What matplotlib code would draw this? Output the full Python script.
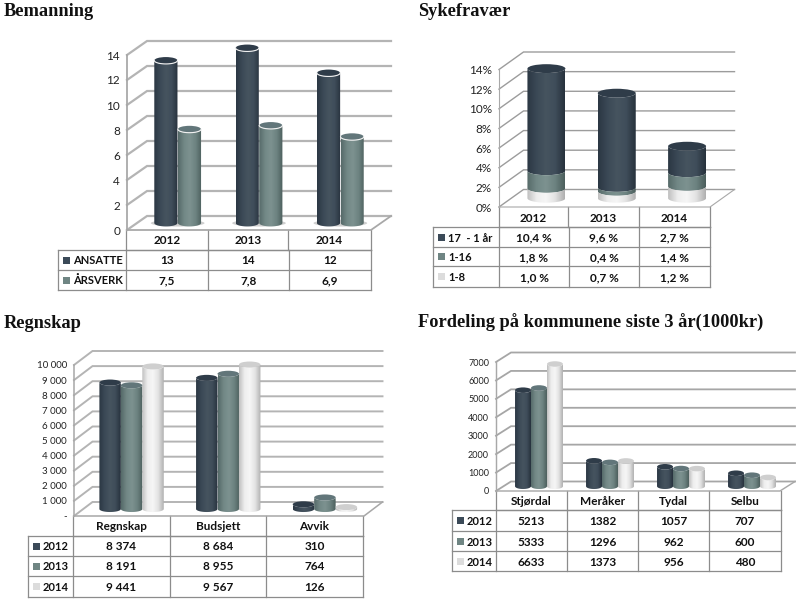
import numpy as np
import matplotlib
matplotlib.use("Agg")
import matplotlib.pyplot as plt
from matplotlib.patches import PathPatch, Ellipse, Rectangle
from matplotlib.path import Path
from matplotlib.colors import LinearSegmentedColormap

W, H = 798, 605
HEADROOM = 1.12  # axes reach above the top tick so tall cylinders are not cut

# chart data
years = ["2012", "2013", "2014"]

bem_rows = ["ANSATTE", "ÅRSVERK"]
bem_ansatte = [13, 14, 12]
bem_arsverk = [7.5, 7.8, 6.9]
bem_table = [["13", "14", "12"], ["7,5", "7,8", "6,9"]]
bem_ticks = [0, 2, 4, 6, 8, 10, 12, 14]

syk_rows = ["17  - 1 år", "1-16", "1-8"]
syk_long = [10.4, 9.6, 2.7]
syk_mid = [1.8, 0.4, 1.4]
syk_short = [1.0, 0.7, 1.2]
syk_table = [["10,4 %", "9,6 %", "2,7 %"], ["1,8 %", "0,4 %", "1,4 %"], ["1,0 %", "0,7 %", "1,2 %"]]
syk_ticks = [0, 2, 4, 6, 8, 10, 12, 14]
syk_labels = ["0%", "2%", "4%", "6%", "8%", "10%", "12%", "14%"]

reg_cats = ["Regnskap", "Budsjett", "Avvik"]
reg_2012 = [8374, 8684, 310]
reg_2013 = [8191, 8955, 764]
reg_2014 = [9441, 9567, 126]
reg_table = [["8 374", "8 684", "310"], ["8 191", "8 955", "764"], ["9 441", "9 567", "126"]]
reg_ticks = [0, 1000, 2000, 3000, 4000, 5000, 6000, 7000, 8000, 9000, 10000]
reg_labels = ["-", "1 000", "2 000", "3 000", "4 000", "5 000", "6 000", "7 000", "8 000", "9 000", "10 000"]

kom_cats = ["Stjørdal", "Meråker", "Tydal", "Selbu"]
kom_2012 = [5213, 1382, 1057, 707]
kom_2013 = [5333, 1296, 962, 600]
kom_2014 = [6633, 1373, 956, 480]
kom_ticks = [0, 1000, 2000, 3000, 4000, 5000, 6000, 7000]

DARK = ["#2b3743", "#3b4956", "#46545f", "#3f4d5a", "#27323d"]
MID = ["#566a69", "#728886", "#7d9290", "#6c8280", "#4c5f5d"]
LIGHT = ["#c0c0c0", "#eeeeee", "#f6f6f6", "#e2e2e2", "#b0b0b0"]
TOPS = {"dark": "#2f3c49", "mid": "#62767a", "light": "#cfcfcf"}
SWATCH = {"dark": "#3b4a58", "mid": "#6f8583", "light": "#dcdcdc"}
RAMPS = {"dark": DARK, "mid": MID, "light": LIGHT}
LINE = "#8c8c8c"

plt.rcParams["font.family"] = ["Lato", "DejaVu Sans"]

fig = plt.figure(figsize=(W / 100, H / 100), dpi=100)
bg = fig.add_axes([0, 0, 1, 1])
bg.set_xlim(0, W)
bg.set_ylim(H, 0)
bg.axis("off")


def front_axes(x0, x1, ytop, y0, ymax, ncat, ticks, labels, fs):
    ax = fig.add_axes([x0 / W, 1 - y0 / H, (x1 - x0) / W, (y0 - ytop) * HEADROOM / H])
    ax.set_xlim(0, ncat)
    ax.set_ylim(0, ymax * HEADROOM)
    ax.patch.set_alpha(0)
    for s in ax.spines.values():
        s.set_visible(False)
    ax.set_xticks([])
    ax.set_yticks(ticks)
    ax.set_yticklabels(labels, fontsize=fs, color="#222222")
    ax.tick_params(axis="y", length=0, pad=5)
    return ax


def walls(ax, dx, dy, ticks, lw, col="#b4b4b4"):
    xm = ax.get_xlim()[1]
    for t in ticks:
        ax.plot([0, dx, xm + dx], [t, t + dy, t + dy], color=col, lw=lw,
                clip_on=False, zorder=1, solid_joinstyle="miter")
    ax.plot([0, 0], [0, ticks[-1]], color="#a8a8a8", lw=lw * 0.8, clip_on=False, zorder=1)
    ax.plot([0, xm, xm + dx], [0, 0, dy], color="#a8a8a8", lw=lw * 0.8, clip_on=False, zorder=1)


def cylinder(ax, xc, w, bottom, top, eh, kind, cap=True, rim=False, z=3):
    # side surface: gradient image clipped to the cylinder outline
    t = np.linspace(np.pi, 2 * np.pi, 40)
    xs_b = xc + w / 2 * np.cos(t)
    ys_b = bottom + eh / 2 * np.sin(t)
    xs_t = xc + w / 2 * np.cos(t[::-1])
    ys_t = top + eh / 2 * np.sin(t[::-1])
    pts = np.vstack([np.c_[xs_b, ys_b], np.c_[xs_t, ys_t], [[xs_b[0], ys_b[0]]]])
    patch = PathPatch(Path(pts), transform=ax.transData, fc="none", ec="none")
    ax.add_patch(patch)
    patch.set_clip_on(False)
    cmap = LinearSegmentedColormap.from_list("c", RAMPS[kind])
    im = ax.imshow(np.linspace(0, 1, 64)[None, :], cmap=cmap, aspect="auto", zorder=z,
                   extent=[xc - w / 2, xc + w / 2, bottom - eh, top + eh], interpolation="bilinear")
    im.set_clip_path(patch)
    if cap:
        ax.add_patch(Ellipse((xc, top), w, eh, fc=TOPS[kind], ec="none", zorder=z + 0.1, clip_on=False))
    if rim:
        ax.plot(xs_t, ys_t, color="#f2f2f2", lw=0.8, zorder=z + 0.2, clip_on=False)


def table(cols_head, cols_body, rows_y, label_x, cats, row_names, kinds, cells, fs):
    lw = 0.9
    head_top, head_bot = rows_y[0], rows_y[1]
    for x in cols_head:
        bg.plot([x, x], [head_top, head_bot], color=LINE, lw=lw)
    for i, c in enumerate(cats):
        bg.text((cols_head[i] + cols_head[i + 1]) / 2, (head_top + head_bot) / 2, c, ha="center",
                va="center_baseline", fontsize=fs, fontweight="bold", color="#111111")
    bg.plot([cols_head[0], cols_head[-1]], [head_bot, head_bot], color=LINE, lw=lw)
    for y in rows_y[1:]:
        bg.plot([label_x, cols_body[-1]], [y, y], color=LINE, lw=lw)
    for x in [label_x] + list(cols_body):
        bg.plot([x, x], [rows_y[1], rows_y[-1]], color=LINE, lw=lw)
    for r, name in enumerate(row_names):
        ym = (rows_y[r + 1] + rows_y[r + 2]) / 2
        bg.add_patch(Rectangle((label_x + 5, ym - 3.5), 7, 7, fc=SWATCH[kinds[r]], ec="none"))
        bg.text(label_x + 15, ym, name, ha="left", va="center_baseline", fontsize=fs - 0.5,
                fontweight="bold", color="#111111")
        for c, val in enumerate(cells[r]):
            bg.text((cols_body[c] + cols_body[c + 1]) / 2, ym, val, ha="center",
                    va="center_baseline", fontsize=fs, fontweight="bold", color="#111111")


def title(x, y, s):
    bg.text(x, y, s, ha="left", va="center_baseline", fontsize=13.2, fontweight="bold",
            family="Liberation Serif", color="#111111")


title(4, 9, "Bemanning")
title(418, 9, "Sykefravær")
title(4, 321, "Regnskap")
title(418, 321, "Fordeling på kommunene siste 3 år(1000kr)")

# Bemanning
ax = front_axes(127, 371, 55, 230, 14, 3, bem_ticks, bem_ticks, 8.5)
dx, dy = 20 / 81.3, 14 / 12.5
walls(ax, dx, dy, bem_ticks, 1.6)
for i in range(3):
    xc = i + 0.5 + dx / 2
    ax.add_patch(Ellipse((xc, 0.55), 0.66, 0.55, fc="#cfcfcf", ec="none", zorder=2, clip_on=False))
    cylinder(ax, xc - 0.145, 0.285, dy / 2, bem_ansatte[i] + dy / 2, 0.55, "dark", rim=True)
    cylinder(ax, xc + 0.145, 0.285, dy / 2, bem_arsverk[i] + dy / 2, 0.55, "mid", rim=True)
ax.set_xlim(0, 3)
ax.set_ylim(0, 14 * HEADROOM)
table([126, 207.5, 288, 371], [126, 208, 289, 371], [230, 250, 270, 290], 58, years, bem_rows,
      ["dark", "mid"], bem_table, 8.5)

# Sykefravær
ax = front_axes(499, 710, 69.5, 207, 14, 3, syk_ticks, syk_labels, 8.5)
dx, dy = 24.5 / 70.3, 17.5 / 9.82
walls(ax, dx, dy, syk_ticks, 1.0, col="#9c9c9c")
for i in range(3):
    xc = i + 0.5 + dx / 2
    b0 = dy / 2
    b1 = b0 + syk_short[i]
    b2 = b1 + syk_mid[i]
    b3 = b2 + syk_long[i]
    cylinder(ax, xc, 0.54, b2, b3, 0.9, "dark", z=3)
    cylinder(ax, xc, 0.54, b1, b2, 0.9, "mid", cap=False, z=3.5)
    cylinder(ax, xc, 0.54, b0, b1, 0.9, "light", cap=False, z=4)
ax.set_xlim(0, 3)
ax.set_ylim(0, 14 * HEADROOM)
table([499, 568, 639, 710], [499, 569, 639, 710], [207, 227, 247, 266, 287], 433, years, syk_rows,
      ["dark", "mid", "light"], syk_table, 8.5)

# Regnskap
ax = front_axes(74, 364, 365, 516, 10000, 3, reg_ticks, reg_labels, 7)
dx, dy = 18.5 / 96.7, 14 / 0.0151
walls(ax, dx, dy, reg_ticks, 1.4)
for i in range(3):
    xc = i + 0.5 + dx / 2
    cylinder(ax, xc - 0.222, 0.222, dy / 2, reg_2012[i] + dy / 2, 400, "dark")
    cylinder(ax, xc, 0.222, dy / 2, reg_2013[i] + dy / 2, 400, "mid")
    cylinder(ax, xc + 0.222, 0.222, dy / 2, reg_2014[i] + dy / 2, 400, "light")
ax.set_xlim(0, 3)
ax.set_ylim(0, 10000 * HEADROOM)
table([73, 170, 266, 363], [73, 170, 266, 363], [516, 536, 556, 576, 597], 28, reg_cats, years,
      ["dark", "mid", "light"], reg_table, 8.5)

# Fordeling på kommunene
ax = front_axes(496, 780, 362, 491, 7000, 4, kom_ticks, kom_ticks, 6.5)
dx, dy = 15 / 71, 9.5 / 129 * 7000
walls(ax, dx, dy, kom_ticks, 1.3, col="#a6a6a6")
for i in range(4):
    xc = i + 0.5 + dx / 2
    cylinder(ax, xc - 0.225, 0.225, dy / 2, kom_2012[i] + dy / 2, 300, "dark")
    cylinder(ax, xc, 0.225, dy / 2, kom_2013[i] + dy / 2, 300, "mid")
    cylinder(ax, xc + 0.225, 0.225, dy / 2, kom_2014[i] + dy / 2, 300, "light")
ax.set_xlim(0, 4)
ax.set_ylim(0, 7000 * HEADROOM)
kom_table = [[str(v) for v in kom_2012], [str(v) for v in kom_2013], [str(v) for v in kom_2014]]
table([496, 567, 638, 709, 781], [496, 567, 638, 709, 781], [491, 510, 531, 551, 571], 452, kom_cats,
      years, ["dark", "mid", "light"], kom_table, 8.5)

fig.savefig("out.png", dpi=100)
